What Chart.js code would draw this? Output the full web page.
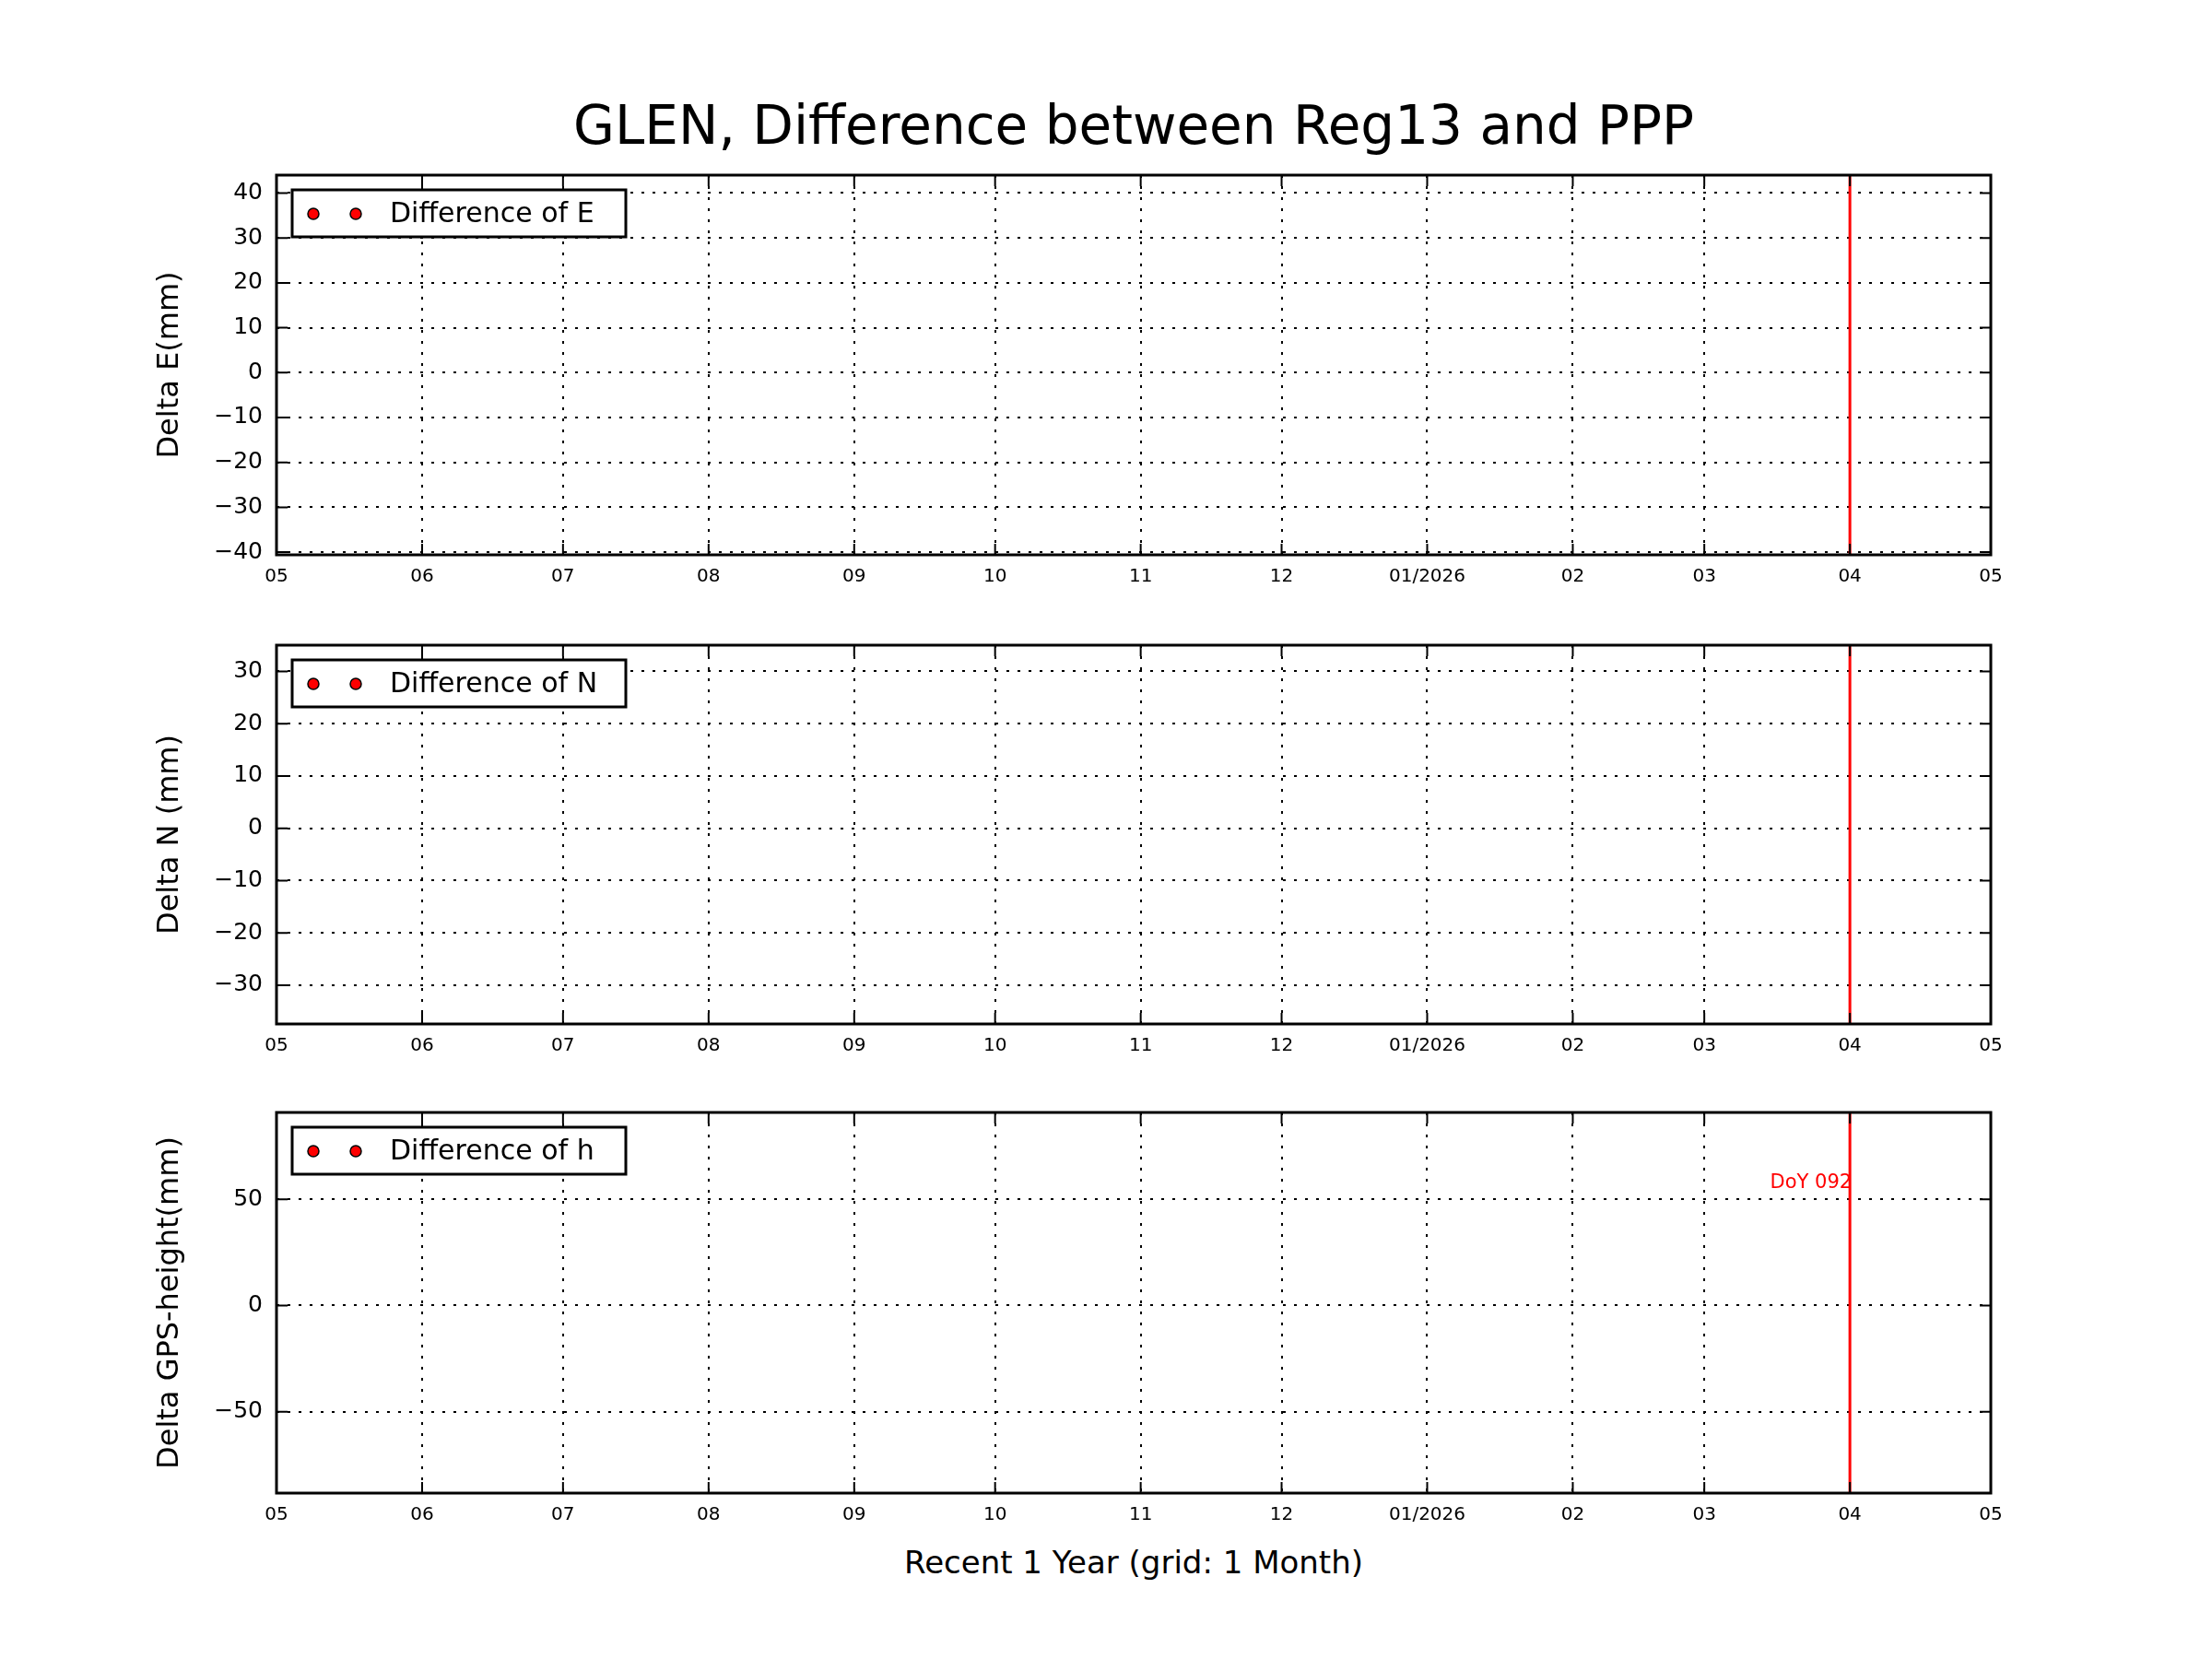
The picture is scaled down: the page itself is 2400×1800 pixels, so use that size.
<!DOCTYPE html>
<html><head><meta charset="utf-8">
<script src="https://cdn.jsdelivr.net/npm/chart.js@4"></script>
<style>
body{margin:0;width:2400px;height:1800px;background:#fff;position:relative;font-family:"DejaVu Sans";}
canvas{position:absolute;left:0;}
.t{position:absolute;left:300px;width:1860px;text-align:center;color:#000;}
</style></head><body>
<div class="t" style="top:102px;font-size:58px;">GLEN, Difference between Reg13 and PPP</div>
<div class="t" style="top:1675px;font-size:34px;">Recent 1 Year (grid: 1 Month)</div>
<div style="position:absolute;left:0;top:0;" id="wrap"></div>
<script>
// x values: days since 2025-05-01
const monthOffsets=[0,31,61,92,123,153,184,214,245,276,304,335,365];
const monthLabels=["05","06","07","08","09","10","11","12","01/2026","02","03","04","05"];
const markerDay=335; const markerLabel="DoY 092";
const panelNames=["Difference of E","Difference of N","Difference of h"];
const panelYLabels=["Delta E(mm)","Delta N (mm)","Delta GPS-height(mm)"];
const yMins=[-40.6,-37.4,-88.3];
const yMaxs=[44,35,90.9];
const yTicks=[[-40,-30,-20,-10,0,10,20,30,40],[-30,-20,-10,0,10,20,30],[-50,0,50]];
const diffE=[],diffN=[],diffH=[];
const series=[diffE,diffN,diffH];
const panelTops=[180,690,1197],panelBottoms=[602,1111,1620];

for(let i=0;i<3;i++){
  const c=document.createElement('canvas');
  const top=panelTops[i]-20,h=panelBottoms[i]-panelTops[i]+20+55;
  c.style.top=top+'px';c.style.width='2400px';c.style.height=h+'px';
  c.width=2400;c.height=h;
  document.getElementById('wrap').appendChild(c);
  const ytk=yTicks[i];
  const deco={id:'deco'+i,afterDraw(ch){
    const ctx=ch.ctx,a=ch.chartArea,x=ch.scales.x,y=ch.scales.y;
    ctx.save();
    ctx.strokeStyle='#000';ctx.lineWidth=3;ctx.strokeRect(a.left,a.top,a.right-a.left,a.bottom-a.top);
    ctx.lineWidth=2;
    monthOffsets.forEach(v=>{const px=x.getPixelForValue(v);ctx.beginPath();ctx.moveTo(px,a.bottom);ctx.lineTo(px,a.bottom-12);ctx.moveTo(px,a.top);ctx.lineTo(px,a.top+12);ctx.stroke();});
    ytk.forEach(v=>{const py=y.getPixelForValue(v);ctx.beginPath();ctx.moveTo(a.left,py);ctx.lineTo(a.left+12,py);ctx.moveTo(a.right,py);ctx.lineTo(a.right-12,py);ctx.stroke();});
    const lx=a.left+17,ly=a.top+16;
    ctx.fillStyle='#fff';ctx.fillRect(lx,ly,362,51);
    ctx.lineWidth=3;ctx.strokeStyle='#000';ctx.strokeRect(lx,ly,362,51);
    [lx+23,lx+69].forEach(cx=>{ctx.beginPath();ctx.arc(cx,ly+26,6,0,Math.PI*2);ctx.fillStyle='#f00';ctx.fill();ctx.lineWidth=1.5;ctx.stroke();});
    ctx.fillStyle='#000';ctx.font='30px "DejaVu Sans"';ctx.textBaseline='middle';ctx.textAlign='left';
    ctx.fillText(panelNames[i],lx+106,ly+27);
    if(i===2){ctx.fillStyle='#f00';ctx.font='21px "DejaVu Sans"';ctx.textAlign='right';ctx.textBaseline='bottom';
      ctx.fillText(markerLabel,x.getPixelForValue(markerDay)+2,y.getPixelForValue(53));}
    ctx.restore();
  }};
  new Chart(c,{type:'scatter',data:{datasets:[
    {data:series[i],backgroundColor:'#f00',borderColor:'#000',pointRadius:6},
    {type:'line',data:[{x:markerDay,y:yMins[i]},{x:markerDay,y:yMaxs[i]}],borderColor:'#f00',borderWidth:3,pointRadius:0}
  ]},options:{responsive:false,animation:false,devicePixelRatio:1,
    layout:{padding:{top:20,right:240,left:165,bottom:0}},
    plugins:{legend:{display:false},tooltip:{enabled:false}},
    scales:{
      x:{type:'linear',min:0,max:365,
        afterBuildTicks:s=>{s.ticks=monthOffsets.map(v=>({value:v}));},
        afterFit:s=>{s.height=55;},
        ticks:{autoSkip:false,maxRotation:0,padding:12,color:'#000',font:{family:'DejaVu Sans',size:20},
          callback:(v)=>{const k=monthOffsets.indexOf(v);return k>=0?monthLabels[k]:'';}},
        grid:{color:'#000',lineWidth:2,drawTicks:false},border:{display:false,dash:[3,9]}},
      y:{min:yMins[i],max:yMaxs[i],
        afterBuildTicks:s=>{s.ticks=ytk.map(v=>({value:v}));},
        afterFit:s=>{s.width=135;},
        title:{display:true,text:panelYLabels[i],color:'#000',font:{family:'DejaVu Sans',size:32},padding:{top:0,bottom:0}},
        ticks:{padding:15,color:'#000',font:{family:'DejaVu Sans',size:25},callback:v=>String(v).replace('-','\u2212')},
        grid:{color:'#000',lineWidth:2,drawTicks:false},border:{display:false,dash:[3,9]}}
    }},plugins:[deco]});
}
</script></body></html>
